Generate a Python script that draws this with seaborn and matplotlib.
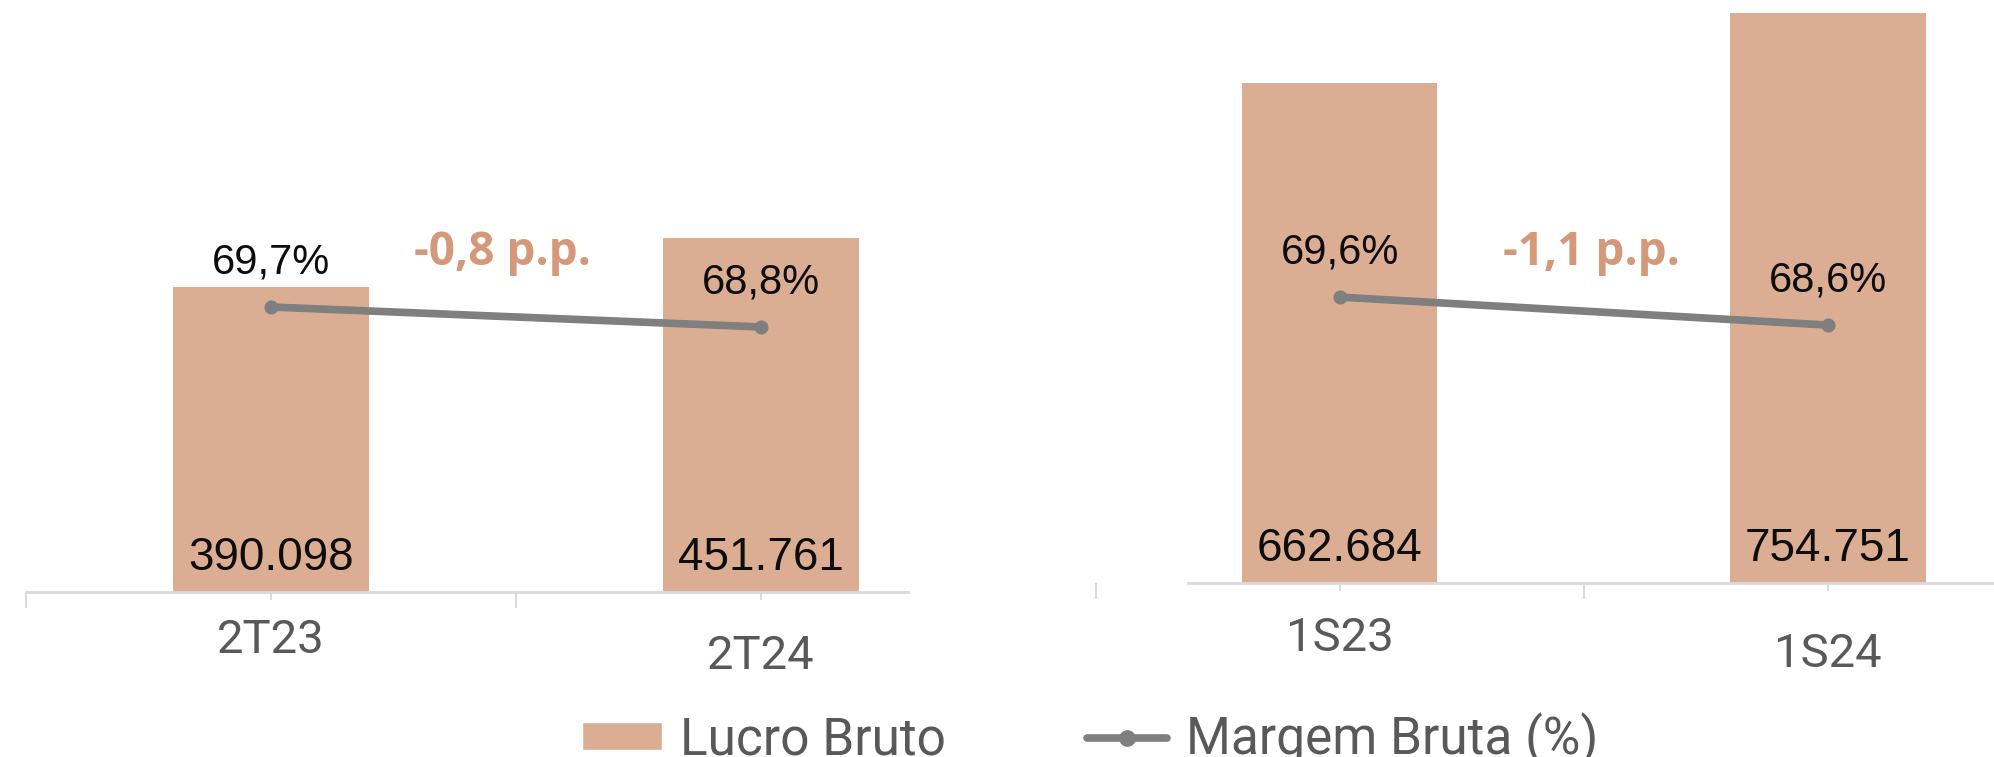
import matplotlib
matplotlib.use('Agg')
import matplotlib.pyplot as plt
from matplotlib.patches import Patch
from matplotlib.lines import Line2D
import seaborn as sns

# Dados (R$ mil / %)
periodos_tri = ['2T23', '2T24']
lucro_tri = [390.098, 451.761]
margem_tri = [69.7, 68.8]
rot_lucro_tri = ['390.098', '451.761']
rot_margem_tri = ['69,7%', '68,8%']
var_tri = '-0,8 p.p.'

periodos_sem = ['1S23', '1S24']
lucro_sem = [662.684, 754.751]
margem_sem = [69.6, 68.6]
rot_lucro_sem = ['662.684', '754.751']
rot_margem_sem = ['69,6%', '68,6%']
var_sem = '-1,1 p.p.'

COR_BARRA = '#dbae94'
COR_LINHA = '#7f7f7f'
COR_VAR = '#d4987a'
COR_EIXO = '#d9d9d9'
COR_TEXTO = '#595959'

sns.set_style('white')
plt.rcParams['font.family'] = ['Roboto', 'DejaVu Sans']

W, H = 1994, 757
fig = plt.figure(figsize=(W / 100, H / 100), dpi=100)


def painel(rect, cats, lucro, margem, rot_lucro, rot_margem, ylim, ylim2, xmax, ini_eixo, pads):
    ax = fig.add_axes(rect)
    sns.barplot(x=cats, y=lucro, ax=ax, color=COR_BARRA, width=0.4, saturation=1, linewidth=0)
    ax2 = ax.twinx()
    sns.pointplot(x=cats, y=margem, ax=ax2, color=COR_LINHA, errorbar=None,
                  markersize=6, linewidth=5.5)

    for a in (ax, ax2):
        for s in ('top', 'left', 'right'):
            a.spines[s].set_visible(False)
        a.set_yticks([])
        a.set_ylabel('')
    ax2.spines['bottom'].set_visible(False)

    ax.set_xticks(range(len(cats)))
    ax.set_xticklabels(cats, fontsize=34, color=COR_TEXTO)
    ax.set_xticks([-0.5, 0.5, 1.5], minor=True)
    # limites depois dos ticks (set_xticks alarga a vista)
    ax.set_xlim(-0.5, xmax)
    ax.set_ylim(*ylim)
    ax2.set_ylim(*ylim2)

    ax.spines['bottom'].set_color(COR_EIXO)
    ax.spines['bottom'].set_linewidth(2)
    ax.spines['bottom'].set_bounds(ini_eixo, xmax)
    ax.tick_params(axis='x', which='major', length=6, width=1.4, color=COR_EIXO, bottom=True)
    ax.tick_params(axis='x', which='minor', length=11.5, width=1.4, color=COR_EIXO, bottom=True)
    for t, p in zip(ax.xaxis.get_major_ticks(), pads):
        t.set_pad(p)
    ax2.tick_params(axis='x', which='both', length=0, labelbottom=False)

    for i, txt in enumerate(rot_lucro):
        ax.annotate(txt, xy=(i, 0), xytext=(0, 16), textcoords='offset points',
                    ha='center', va='baseline', fontsize=33, color='#0d0d0d',
                    family=['Liberation Sans', 'DejaVu Sans'])
    for i, txt in enumerate(rot_margem):
        ax2.annotate(txt, xy=(i, margem[i]), xytext=(0, 24), textcoords='offset points',
                     ha='center', va='baseline', fontsize=30, color='#0d0d0d',
                     family=['Liberation Sans', 'DejaVu Sans'])
    return ax


painel([26 / W, 165 / H, 882 / W, 592 / H], periodos_tri, lucro_tri, margem_tri,
       rot_lucro_tri, rot_margem_tri, (0, 756.3), (56.86, 83.53), 1.3, -0.5, (13, 24))
painel([1095.5 / W, 174 / H, 898.5 / W, 583 / H], periodos_sem, lucro_sem, margem_sem,
       rot_lucro_sem, rot_margem_sem, (0, 772), (59.39, 80.21), 1.34, -0.31, (18, 29))

# variação da margem
for txt, xp in ((var_tri, 502), (var_sem, 1591)):
    fig.text(xp / W, (H - 265) / H, txt, ha='center', va='baseline', fontsize=33,
             fontweight='bold', color=COR_VAR, family=['Open Sans', 'DejaVu Sans'])

handles = [
    Patch(facecolor=COR_BARRA, label='Lucro Bruto'),
    Line2D([], [], color=COR_LINHA, lw=5.5, marker='o', markersize=11, label='Margem Bruta (%)'),
]
fig.legend(handles=handles, loc='lower left', bbox_to_anchor=(582 / W, -0.012), ncol=2,
           frameon=False, prop={'family': 'Roboto', 'size': 37}, labelcolor=COR_TEXTO,
           handlelength=1.55, handleheight=0.48, handletextpad=0.36, columnspacing=2.75,
           borderpad=0, borderaxespad=0)

fig.savefig('out.png', dpi=100)
